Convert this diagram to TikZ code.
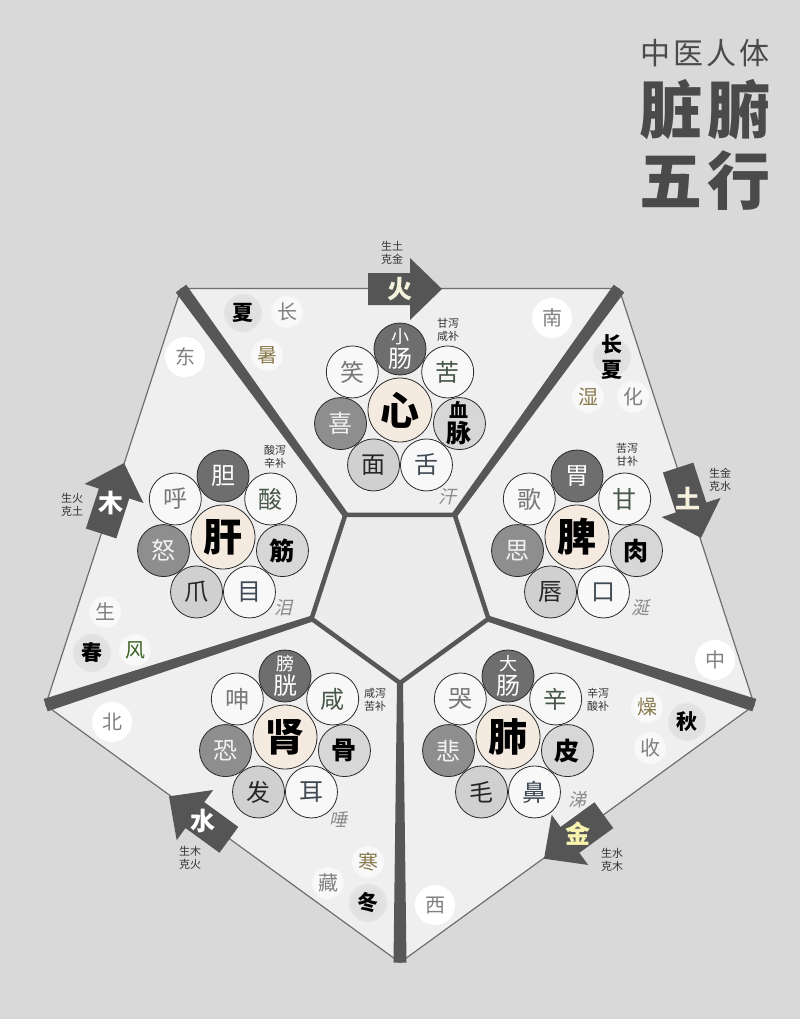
\documentclass[tikz,border=0pt]{standalone}
\usepackage{fontspec}
\setmainfont{Noto Sans CJK SC}
\newfontfamily\cjksl[FakeSlant=0.22]{Noto Sans CJK SC}
\usetikzlibrary{calc}
\definecolor{bg}{HTML}{D9D9D9}
\definecolor{sec}{HTML}{EFEFEF}
\definecolor{innerc}{HTML}{ECECEC}
\definecolor{div}{HTML}{575757}
\definecolor{edgec}{HTML}{6E6E6E}
\definecolor{fufill}{HTML}{6E6E6E}
\definecolor{emofill}{HTML}{8E8E8E}
\definecolor{tisfill}{HTML}{D7D7D7}
\definecolor{formfill}{HTML}{D0D0D0}
\definecolor{whitefill}{HTML}{F8F8F8}
\definecolor{beige}{HTML}{F4EAE0}
\definecolor{circline}{HTML}{2A2A2A}
\definecolor{arrowc}{HTML}{555555}
\definecolor{taste}{HTML}{46574A}
\definecolor{sense}{HTML}{3F4A55}
\definecolor{soundc}{HTML}{787878}
\definecolor{grayt}{HTML}{808080}
\definecolor{olive}{HTML}{8A7B4E}
\definecolor{titlec}{HTML}{4A4A4A}
\definecolor{smallc}{HTML}{333333}
\definecolor{fluid}{HTML}{8A8A8A}
\definecolor{cream}{HTML}{F6F1DC}
\pgfdeclareradialshading{wglow}{\pgfpoint{0bp}{0bp}}{color(0bp)=(white); color(32bp)=(white); color(50bp)=(sec)}
\pgfdeclareradialshading{wglows}{\pgfpoint{0bp}{0bp}}{color(0bp)=(white!70!sec); color(20bp)=(white!60!sec); color(50bp)=(sec)}
\pgfdeclareradialshading{dglow}{\pgfpoint{0bp}{0bp}}{color(0bp)=(black!13); color(18bp)=(black!12); color(50bp)=(sec)}
\tikzset{
  circ/.style={circle, draw=circline, line width=0.8pt, minimum size=52pt, inner sep=0pt, align=center},
  cfu/.style={circ, fill=fufill, text=white, font=\fontsize{24}{24}\selectfont},
  ctaste/.style={circ, fill=whitefill, text=taste, font=\fontsize{24}{24}\selectfont},
  ctis/.style={circ, fill=tisfill, text=black, font=\bfseries\fontsize{25}{25}\selectfont},
  csense/.style={circ, fill=whitefill, text=sense, font=\fontsize{24}{24}\selectfont},
  cform/.style={circ, fill=formfill, text=black!85, font=\fontsize{24}{24}\selectfont},
  cemo/.style={circ, fill=emofill, text=white!95!black, font=\fontsize{24}{24}\selectfont},
  csound/.style={circ, fill=whitefill, text=soundc, font=\fontsize{24}{24}\selectfont},
  ccen/.style={circ, fill=beige, minimum size=64pt, text=black, font=\bfseries\fontsize{39}{39}\selectfont},
  small/.style={align=center, inner sep=0pt, text=smallc, font=\fontsize{11}{13}\selectfont},
  fluidt/.style={inner sep=0pt, text=fluid, font=\cjksl\fontsize{18}{18}\selectfont},
  arrtxt/.style={inner sep=0pt, font=\bfseries\fontsize{25}{25}\selectfont},
  sw/.style={inner sep=0pt, text=grayt, font=\fontsize{20}{20}\selectfont},
  sd/.style={inner sep=0pt, text=black, align=center, font=\bfseries\fontsize{21}{25}\selectfont},
  so/.style={inner sep=0pt, text=olive, font=\fontsize{20}{20}\selectfont},
  glw/.style={shading=wglow},
  glws/.style={shading=wglows},
  gld/.style={shading=dglow},
}
\newcommand\vtwo[2]{\fontsize{19}{21}\selectfont #1\\#2}
\newcommand\ftwo[2]{\fontsize{18}{20}\selectfont #1\\#2}
\newcommand\flower[8]{%
  \coordinate (#1) at (#2);
  \node[cfu]    (#1-fu) at ($(#1)+(-90:61)$)     {#4};
  \node[ctaste] (#1-ta) at ($(#1)+(-38.57:61)$)  {#5};
  \node[ctis]   (#1-ti) at ($(#1)+(12.86:61)$)   {#6};
  \node[csense] (#1-se) at ($(#1)+(64.29:61)$)   {#7};
  \node[cform]  (#1-fo) at ($(#1)+(115.71:61)$)  {#8};
  \node[ccen]   (#1-c)  at (#1) {#3};
}
\newcommand\flowerB[3]{%
  \node[cemo]   (#1-em) at ($(#1)+(167.14:61)$)  {#2};
  \node[csound] (#1-so) at ($(#1)+(218.57:61)$)  {#3};
}
\newcommand\wxarrow[2]{%
  \begin{scope}[shift={(#1)}, rotate=#2]
    \fill[arrowc] (-32,-16) -- (10,-16) -- (10,-31) -- (42,0) -- (10,31) -- (10,16) -- (-32,16) -- cycle;
  \end{scope}}
\begin{document}
\begin{tikzpicture}[x=1pt,y=-1pt]
\useasboundingbox (0,0) rectangle (800,1019);
\fill[bg] (0,0) rectangle (800,1019);
\coordinate (O) at (400,590);
\foreach \a/\n in {-126/1,-54/2,18/3,90/4,162/5}{
  \coordinate (P\n) at ($(O)+(\a:372.6)$);
  \coordinate (Q\n) at ($(O)+(\a:93)$);
}
% outer pentagon
\filldraw[fill=sec, draw=edgec, line width=1.2pt, line join=round] (P1)--(P2)--(P3)--(P4)--(P5)--cycle;
% inner pentagon
\filldraw[fill=innerc, draw=div, line width=4.5pt, line join=round] (Q1)--(Q2)--(Q3)--(Q4)--(Q5)--cycle;
% dividers
\foreach \n in {1,...,5}{
  \fill[div] ($(Q\n)!3pt!90:(P\n)$) -- ($(P\n)!6.5pt!-90:(Q\n)$) -- ($(P\n)!6.5pt!90:(Q\n)$) -- ($(Q\n)!3pt!-90:(P\n)$) -- cycle;
}
% title
\node[inner sep=0pt, text=titlec, font=\fontsize{30}{30}\selectfont] (t1) at (705,53) {中\kern3pt 医\kern3pt 人\kern3pt 体};
\node[inner sep=0pt, text=titlec, font=\bfseries\fontsize{63}{63}\selectfont] (t2) at (705,110) {脏\kern5pt 腑};
\node[inner sep=0pt, text=titlec, font=\bfseries\fontsize{63}{63}\selectfont] (t3) at (705,181) {五\kern5pt 行};
% glows behind season / direction characters
\foreach \p in {{185,357},{552,318},{715,660},{112,722},{435,905}}
  \shade[glw] (\p) circle (20);
\foreach \p in {{287,312},{633,397},{105,612},{328,883},{650,748},{267,355},{588,397},{135,650},{368,862},{647,707}}
  \shade[glws] (\p) circle (16);
\foreach \p in {{243,313},{612,357},{92,653},{368,903},{687,722}}
  \shade[gld] (\p) circle (19);
% seasons and directions
\node[sw] (dong) at (185,357) {东};
\node[sw] (nan) at (552,318) {南};
\node[sw] (zhong) at (715,660) {中};
\node[sw] (bei) at (112,722) {北};
\node[sw] (xi) at (435,905) {西};
\node[sd] (xia) at (243,313) {夏};
\node[sw] (chang) at (287,312) {长};
\node[so] (shu) at (267,355) {暑};
\node[sd] (changxia) at (612,357) {长\\夏};
\node[so] (shi) at (588,397) {湿};
\node[sw] (hua) at (633,397) {化};
\node[sw] (sheng) at (105,612) {生};
\node[sd] (chun) at (92,653) {春};
\node[so, text=olive!70!green!60!black] (feng) at (135,650) {风};
\node[so] (han) at (368,862) {寒};
\node[sw] (cang) at (328,883) {藏};
\node[sd] (dongj) at (368,903) {冬};
\node[so] (zao) at (647,707) {燥};
\node[sd] (qiu) at (687,722) {秋};
\node[sw] (shou) at (650,748) {收};
% clusters
\flower{xin}{400,410}{心}{\ftwo{小}{肠}}{苦}{\vtwo{血}{脉}}{舌}{面}
\flowerB{xin}{喜}{笑}
\flower{gan}{223,537}{肝}{胆}{酸}{筋}{目}{爪}
\flowerB{gan}{怒}{呼}
\flower{pi}{577,537}{脾}{胃}{甘}{肉}{口}{唇}
\flowerB{pi}{思}{歌}
\flower{shen}{285,737}{肾}{\ftwo{膀}{胱}}{咸}{骨}{耳}{发}
\flowerB{shen}{恐}{呻}
\flower{fei}{508,737}{肺}{\ftwo{大}{肠}}{辛}{皮}{鼻}{毛}
\flowerB{fei}{悲}{哭}
% taste notes
\node[small] (xin-n) at (448,330) {甘泻\\咸补};
\node[small] (gan-n) at (275,457) {酸泻\\辛补};
\node[small] (pi-n) at (627,455) {苦泻\\甘补};
\node[small] (shen-n) at (375,700) {咸泻\\苦补};
\node[small] (fei-n) at (598,700) {辛泻\\酸补};
% fluids
\node[fluidt] (han2) at (447,497) {汗};
\node[fluidt] (lei) at (283,608) {泪};
\node[fluidt] (xian) at (640,608) {涎};
\node[fluidt] (tuo) at (338,820) {唾};
\node[fluidt] (ti) at (577,800) {涕};
% element arrows
\wxarrow{400,289}{0}
\wxarrow{688,498}{-72}
\wxarrow{578,834}{-144}
\wxarrow{203,821}{-216}
\wxarrow{111,503}{72}
\node[arrtxt, text=cream] (huo) at (400,289) {火};
\node[arrtxt, text=cream] (tu) at (688,498) {土};
\node[arrtxt, text=cream!80!yellow] (jin) at (578,834) {金};
\node[arrtxt, text=white] (shui) at (203,821) {水};
\node[arrtxt, text=white] (mu) at (111,503) {木};
\node[small] (huo-n) at (392,253) {生土\\克金};
\node[small] (tu-n) at (720,480) {生金\\克水};
\node[small] (jin-n) at (612,860) {生水\\克木};
\node[small] (shui-n) at (190,858) {生木\\克火};
\node[small] (mu-n) at (72,505) {生火\\克土};
\end{tikzpicture}
\end{document}
